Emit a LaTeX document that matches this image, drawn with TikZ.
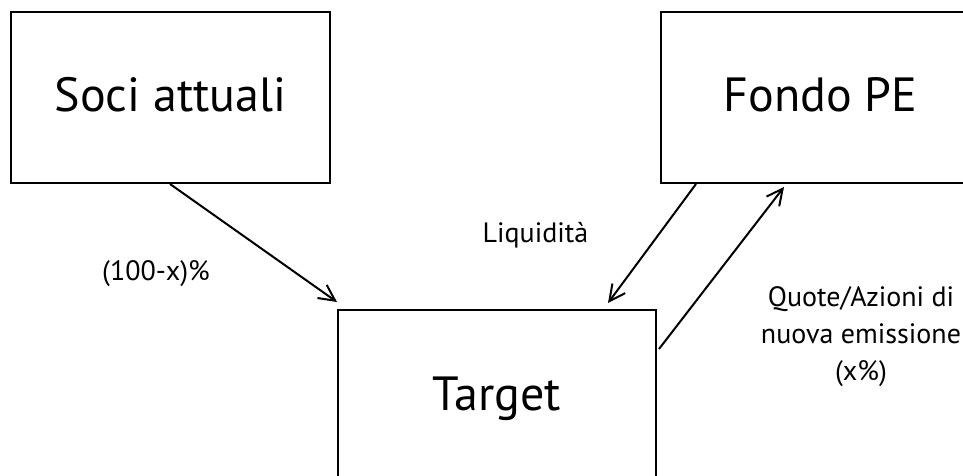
\documentclass[tikz,border=0pt]{standalone}
\usepackage{fontspec}
\setmainfont{PT Sans}
\usetikzlibrary{arrows.meta}
\begin{document}
\begin{tikzpicture}[x=1pt,y=-1pt,
  box/.style={draw=black,line width=2pt,rectangle,inner sep=0pt,
    minimum width=319pt,minimum height=171pt,text height=39pt,text depth=10pt,
    font=\fontsize{48}{58}\selectfont},
  lbl/.style={inner sep=0pt,font=\fontsize{28}{37}\selectfont},
  arr/.style={line width=2pt,-{Straight Barb[length=16pt,width=16pt,line width=2pt]}}]
\useasboundingbox (0,0) rectangle (963,476);
\clip (0,0) rectangle (963,476);
\node[box] (soci) at (170.5,97.5) {Soci attuali};
\node[box] (fondo) at (820.5,97.5) {Fondo PE};
\node[box,minimum width=318pt] (target) at (497,395.5) {Target};
\draw[arr] ([xshift=160pt]soci.south west) -- ([yshift=7pt]target.north west);
\draw[arr] ([xshift=36pt]fondo.south west) -- ([xshift=-49pt,yshift=6pt]target.north east);
\draw[arr] ([xshift=2pt,yshift=-40pt]target.north east) -- ([xshift=124pt,yshift=-3pt]fondo.south west);
\node[lbl,anchor=base] (l1) at (156,280) {(100-x)\%};
\node[lbl,anchor=base] (l2) at (535.5,242) {Liquidità};
\node[lbl,anchor=base,align=center] (l3) at (861,380) {Quote/Azioni di\\nuova emissione\\(x\%)};
\end{tikzpicture}
\end{document}
